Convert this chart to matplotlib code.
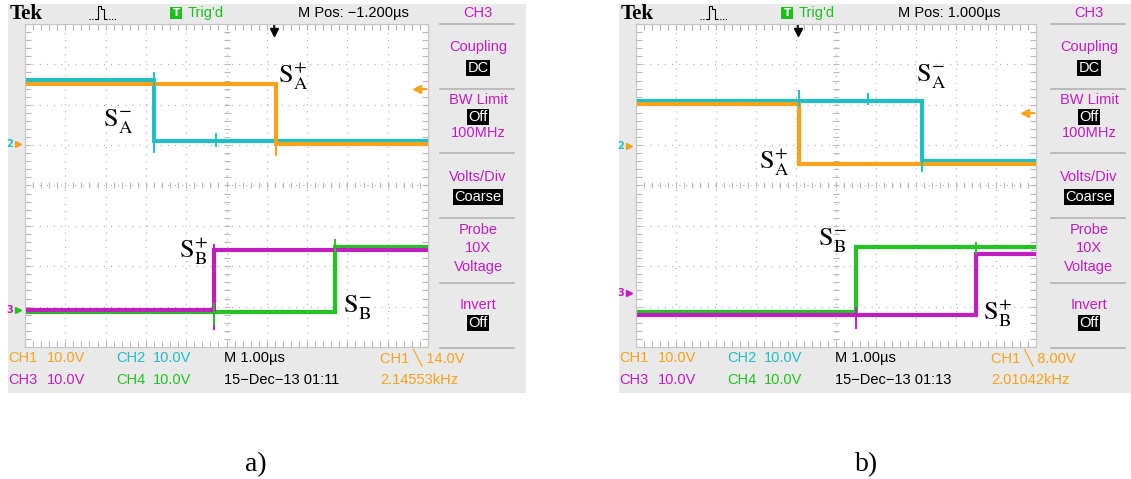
import matplotlib
matplotlib.use("Agg")
import numpy as np
import matplotlib.pyplot as plt
from matplotlib.patches import Rectangle
from matplotlib.ticker import MultipleLocator

plt.rcParams['mathtext.fontset'] = 'stix'

W, H = 1131, 479

# channel colours
C1 = '#f7a21b'   # orange
C2 = '#1fbfc4'   # cyan
C3 = '#c21dc2'   # magenta
C4 = '#22c322'   # green
GRAY_BG = '#e9e9e9'

# ---- screen a): switching instants (div) and levels (div, 0 = bottom of screen)
a_ch1_t = [0, 6.23]
a_ch1_v = [6.52, 5.04]
a_ch2_t = [0, 3.20]
a_ch2_v = [6.62, 5.09]
a_ch3_t = [0, 4.69]
a_ch3_v = [0.91, 2.40]
a_ch4_t = [0, 7.69]
a_ch4_v = [0.86, 2.47]
# glitches at the edges: channel, time, low, high
a_glitch = [('ch2', 3.20, 4.81, 6.80), ('ch1', 6.23, 4.74, 5.10),
            ('ch3', 4.69, 0.42, 2.55), ('ch4', 4.69, 0.55, 1.10),
            ('ch4', 7.69, 2.30, 2.67), ('ch2', 4.74, 4.95, 5.30)]

# ---- screen b)
b_ch1_t = [0, 4.08]
b_ch1_v = [6.02, 4.54]
b_ch2_t = [0, 7.15]
b_ch2_v = [6.10, 4.60]
b_ch3_t = [0, 8.50]
b_ch3_v = [0.80, 2.30]
b_ch4_t = [0, 5.50]
b_ch4_v = [0.86, 2.47]
b_glitch = [('ch2', 4.08, 5.95, 6.37), ('ch2', 7.15, 4.33, 4.75),
            ('ch3', 5.50, 0.44, 1.00), ('ch4', 8.50, 2.30, 2.60),
            ('ch2', 5.80, 6.00, 6.30)]

fig = plt.figure(figsize=(W / 100, H / 100), dpi=100)
bg = fig.add_axes([0, 0, 1, 1])
bg.set_xlim(0, W)
bg.set_ylim(H, 0)
bg.axis('off')

SCOPE_FONT = ['Liberation Sans', 'DejaVu Sans']
FS = 10.5


def fx(x):
    return x / W


def fy(y):
    return 1 - y / H


def txt(x, y, s, color='black', size=FS, ha='left', **kw):
    fig.text(fx(x), fy(y), s, color=color, fontsize=size, ha=ha, va='center',
             family=SCOPE_FONT, **kw)


def draw_screen(ox, data, glitch, mpos, trig_x, trig_level, marks, freq, trig_v,
                date, labels, caption, gr_w):
    # grey frame of the screenshot
    bg.add_patch(Rectangle((ox + 8, 4), 518, 389, color=GRAY_BG, lw=0))

    # header
    fig.text(fx(ox + 10), fy(14), 'Tek', fontsize=15, fontweight='bold',
             family='Liberation Serif', va='center')
    bg.plot([ox + 89, ox + 96], [19, 19], color='k', lw=0.8, ls=(0, (1, 1.5)))
    bg.plot([ox + 96, ox + 98, ox + 98, ox + 101, ox + 101, ox + 104, ox + 104, ox + 106],
            [19, 19, 6, 6, 9, 9, 19, 19], color='k', lw=0.8)
    bg.plot([ox + 106, ox + 116], [19, 19], color='k', lw=0.8, ls=(0, (1, 1.5)))
    bg.add_patch(Rectangle((ox + 170, 7), 12, 12, color='#1dbf1d', lw=0))
    fig.text(fx(ox + 176), fy(13.5), 'T', color='white', fontsize=7.5,
             fontweight='bold', ha='center', va='center')
    txt(ox + 188, 13, "Trig'd", color='#1dbf1d')
    txt(mpos[0], 13, mpos[1])

    # side menu
    menu = [('CH3', 13, False), ('Coupling', 47, False), ('DC', 68, True),
            ('BW Limit', 100, False), ('Off', 117, True), ('100MHz', 133, False),
            ('Volts/Div', 177, False), ('Coarse', 197, True), ('Probe', 230, False),
            ('10X', 248, False), ('Voltage', 267, False), ('Invert', 305, False),
            ('Off', 323, True)]
    for s, y, boxed in menu:
        if boxed:
            fig.text(fx(ox + 478), fy(y), s, color='white', fontsize=FS,
                     ha='center', va='center', family=SCOPE_FONT,
                     bbox=dict(facecolor='black', edgecolor='none', pad=1.0))
        else:
            txt(ox + 478, y, s, color=C3, ha='center')
    for y in [24, 89, 153, 218, 283, 348]:
        bg.plot([ox + 440, ox + 514], [y, y], color='#b4b4b4', lw=1.2)

    # bottom status lines
    txt(ox + 8, 358, 'CH1', color=C1)
    txt(ox + 47, 358, '10.0V', color=C1)
    txt(ox + 116, 358, 'CH2', color=C2)
    txt(ox + 153, 358, '10.0V', color=C2)
    txt(ox + 224, 358, 'M 1.00\u00b5s')
    txt(ox + 380, 358, 'CH1 \u2572 ' + trig_v, color=C1)
    txt(ox + 8, 380, 'CH3', color=C3)
    txt(ox + 47, 380, '10.0V', color=C3)
    txt(ox + 116, 380, 'CH4', color=C4)
    txt(ox + 153, 380, '10.0V', color=C4)
    txt(ox + 224, 380, date)
    txt(ox + 380, 380, freq, color=C1)

    # graticule
    gx0, gy0, gy1 = ox + 25, 24, 347
    ax = fig.add_axes([fx(gx0), fy(gy1), gr_w / W, (gy1 - gy0) / H])
    ax.set_facecolor('white')
    ax.set_xlim(0, 10)
    ax.set_ylim(0, 8)
    ax.xaxis.set_major_locator(MultipleLocator(1))
    ax.yaxis.set_major_locator(MultipleLocator(1))
    ax.xaxis.set_minor_locator(MultipleLocator(0.2))
    ax.yaxis.set_minor_locator(MultipleLocator(0.2))
    ax.tick_params(which='both', direction='in', length=4, width=0.8, color='#b8b8b8',
                   top=True, right=True, labelleft=False, labelbottom=False)
    ax.grid(which='major', color='#a8a8a8', lw=0.9, ls=(0, (0.8, 4.9)))
    for sp in ax.spines.values():
        sp.set_color('#c4c4c4')
    cx = np.arange(0, 10.01, 0.2)
    cy = np.arange(0, 8.01, 0.2)
    ax.plot(cx, np.full_like(cx, 4), ls='none', marker='|', ms=5, mew=0.8, color='#b8b8b8')
    ax.plot(np.full_like(cy, 5), cy, ls='none', marker='_', ms=5, mew=0.8, color='#b8b8b8')

    colors = {'ch1': C1, 'ch2': C2, 'ch3': C3, 'ch4': C4}
    for ch in ['ch2', 'ch1', 'ch4', 'ch3']:
        t, v = data[ch]
        ax.plot(list(t) + [10], list(v) + [v[-1]], drawstyle='steps-post',
                color=colors[ch], lw=3.0, solid_joinstyle='miter')
    for ch, t, lo, hi in glitch:
        ax.vlines(t, lo, hi, color=colors[ch], lw=1.4)

    # trigger position / level markers and channel ground markers
    ax.plot([trig_x, trig_x], [7.82, 7.97], color='k', lw=1.2, clip_on=False)
    ax.plot(trig_x, 7.8, marker='v', color='k', ms=6, clip_on=False)
    ax.plot([9.72, 9.95], [trig_level, trig_level], color=C1, lw=1.5, clip_on=False)
    ax.plot(9.72, trig_level, marker='<', color=C1, ms=6, clip_on=False)
    for num, lvl, c_num, c_arr in marks:
        ax.text(-0.38, lvl, num, color=c_num, fontsize=7, fontweight='bold',
                ha='center', va='center', clip_on=False)
        ax.plot(-0.18, lvl, marker='>', color=c_arr, ms=4, clip_on=False)

    for s, x, y in labels:
        fig.text(fx(x), fy(y), s, fontsize=19, ha='center', va='center')
    fig.text(fx(ox + 256), fy(465), caption, fontsize=20, ha='center', va='center',
             family='Liberation Serif')


draw_screen(0,
            {'ch1': (a_ch1_t, a_ch1_v), 'ch2': (a_ch2_t, a_ch2_v),
             'ch3': (a_ch3_t, a_ch3_v), 'ch4': (a_ch4_t, a_ch4_v)},
            a_glitch, (298, 'M Pos: \u22121.200\u00b5s'), 6.18, 6.4,
            [('2', 5.04, C2, C1), ('3', 0.91, C3, C4)],
            '2.14553kHz', '14.0V', '15\u2212Dec\u221213 01:11',
            [(r'$\mathrm{S}_{\mathrm{A}}^{+}$', 293, 76),
             (r'$\mathrm{S}_{\mathrm{A}}^{-}$', 118, 122),
             (r'$\mathrm{S}_{\mathrm{B}}^{+}$', 193, 251),
             (r'$\mathrm{S}_{\mathrm{B}}^{-}$', 357, 308)],
            'a)', 403)

draw_screen(611,
            {'ch1': (b_ch1_t, b_ch1_v), 'ch2': (b_ch2_t, b_ch2_v),
             'ch3': (b_ch3_t, b_ch3_v), 'ch4': (b_ch4_t, b_ch4_v)},
            b_glitch, (898, 'M Pos: 1.000\u00b5s'), 4.05, 5.8,
            [('2', 4.99, C2, C1), ('3', 1.33, C3, C3)],
            '2.01042kHz', '8.00V', '15\u2212Dec\u221213 01:13',
            [(r'$\mathrm{S}_{\mathrm{A}}^{-}$', 931, 77),
             (r'$\mathrm{S}_{\mathrm{A}}^{+}$', 774, 162),
             (r'$\mathrm{S}_{\mathrm{B}}^{-}$', 832, 241),
             (r'$\mathrm{S}_{\mathrm{B}}^{+}$', 997, 313)],
            'b)', 400)

fig.savefig('out.png', dpi=100)
